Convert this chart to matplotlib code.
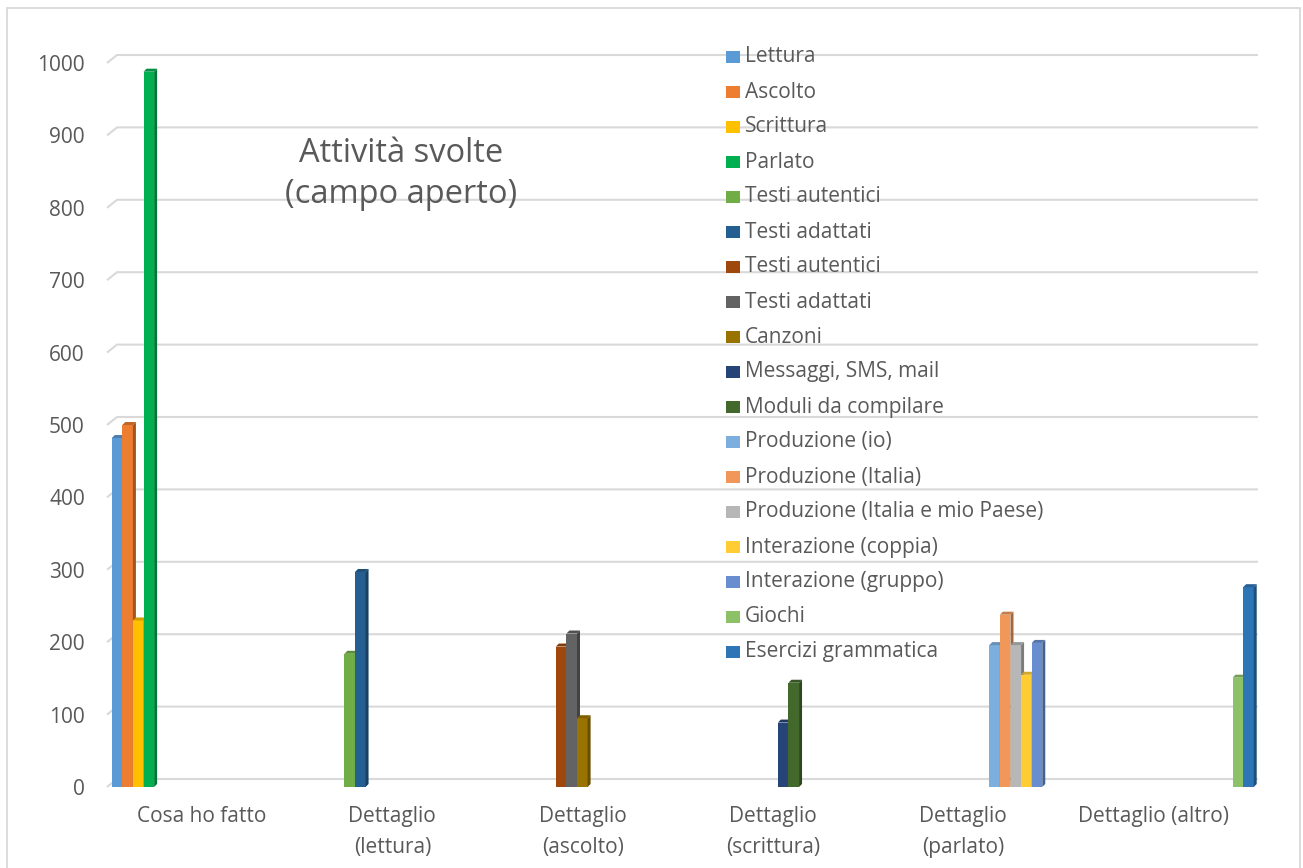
import matplotlib
matplotlib.use("Agg")
import matplotlib.pyplot as plt
from matplotlib.patches import Polygon, Rectangle
from matplotlib.colors import to_rgb

# ── data ───────────────────────────────────────────────────────────────────
CATEGORIES = [
    "Cosa ho fatto",
    "Dettaglio\n(lettura)",
    "Dettaglio\n(ascolto)",
    "Dettaglio\n(scrittura)",
    "Dettaglio\n(parlato)",
    "Dettaglio (altro)",
]

SERIES = [
    "Lettura", "Ascolto", "Scrittura", "Parlato",
    "Testi autentici", "Testi adattati",
    "Testi autentici", "Testi adattati", "Canzoni",
    "Messaggi, SMS, mail", "Moduli da compilare",
    "Produzione (io)", "Produzione (Italia)", "Produzione (Italia e mio Paese)",
    "Interazione (coppia)", "Interazione (gruppo)",
    "Giochi", "Esercizi grammatica",
]

# category each series belongs to
SERIES_CAT = [0, 0, 0, 0, 1, 1, 2, 2, 2, 3, 3, 4, 4, 4, 4, 4, 5, 5]

VALUES = [482, 500, 230, 988, 184, 297, 194, 212, 95, 89, 144,
          196, 238, 196, 155, 199, 151, 276]

COLORS = [
    "#5B9BD5", "#ED7D31", "#FFC000", "#00B050", "#70AD47", "#255E91",
    "#9E480E", "#636363", "#997300", "#264478", "#43682B", "#7CAFDD",
    "#F1975A", "#B7B7B7", "#FFCD33", "#698ED0", "#8CC168", "#2E75B6",
]

Y_TICKS = list(range(0, 1001, 100))

# ── layout helpers (pixel based, figure is 1303x868 at 100 dpi) ─────────────
W, H = 1303, 868
TEXT = "#595959"
GRID = "#D9D9D9"
CAT_PX = 190.3          # width of one category in pixels
Y_PX = 0.724            # pixels per unit on the value axis


def fx(px):
    return px / W


def fy(py):
    return 1 - py / H


def shade(color, f):
    r, g, b = to_rgb(color)
    return (r * f, g * f, b * f)


plt.rcParams["font.family"] = ["Open Sans", "DejaVu Sans"]

fig = plt.figure(figsize=(W / 100, H / 100), dpi=100)
fig.patch.set_facecolor("white")

# outer chart border
fig.patches.append(Rectangle((fx(7), fy(880)), fx(1300) - fx(7), fy(8) - fy(880),
                             transform=fig.transFigure, fill=False,
                             edgecolor=GRID, linewidth=1.3))

ax = fig.add_axes([fx(107), fy(787), fx(1258) - fx(107), fy(63) - fy(787)])
ax.set_xlim(-0.5, 5.55)
ax.set_ylim(0, 1000)
for s in ax.spines.values():
    s.set_visible(False)

# gridlines on the back wall, with the slanted side-wall stub
dx_wall = 10 / CAT_PX
dy_wall = 8 / Y_PX
for v in Y_TICKS:
    ax.plot([-0.5, -0.5 + dx_wall, 5.55], [v, v + dy_wall, v + dy_wall],
            color=GRID, linewidth=1.5, clip_on=False, zorder=0,
            solid_capstyle="butt")

# bars: one slot per series inside every category
slot = 1 / 18
lefts = [c - 0.475 + k * 0.0557 for k, c in enumerate(SERIES_CAT)]
bars = ax.bar(lefts, VALUES, width=slot, align="edge", color=COLORS,
              linewidth=0, zorder=2)

# depth faces (right side and top) for the 3-D look
ddx = 3 / CAT_PX
ddy = 3 / Y_PX
for i, (b, col) in enumerate(zip(bars, COLORS)):
    x0, w, h = b.get_x(), b.get_width(), b.get_height()
    b.set_zorder(2 + i * 0.01)
    side = Polygon([(x0 + w, 0), (x0 + w + ddx, ddy), (x0 + w + ddx, h + ddy), (x0 + w, h)],
                   closed=True, facecolor=shade(col, 0.68), edgecolor="none",
                   zorder=2 + i * 0.01)
    top = Polygon([(x0, h), (x0 + ddx, h + ddy), (x0 + w + ddx, h + ddy), (x0 + w, h)],
                  closed=True, facecolor=shade(col, 0.82), edgecolor="none",
                  zorder=2 + i * 0.01)
    ax.add_patch(side)
    ax.add_patch(top)

# axes ticks
ax.set_yticks(Y_TICKS)
ax.set_yticklabels([str(v) for v in Y_TICKS])
ax.set_xticks(range(len(CATEGORIES)))
ax.set_xticklabels(CATEGORIES, linespacing=1.6)
ax.tick_params(axis="y", length=0, pad=16, labelsize=15, labelcolor=TEXT)
ax.tick_params(axis="x", length=0, pad=14, labelsize=15, labelcolor=TEXT)

# title inside plot area
fig.text(fx(401), fy(174), "Attività svolte\n(campo aperto)", ha="center", va="center",
         fontsize=23.5, color=TEXT, linespacing=1.3)

# legend, one row per series
for k, (name, col) in enumerate(zip(SERIES, COLORS)):
    yc = 57 + 35 * k
    fig.patches.append(Rectangle((fx(726), fy(yc + 6)), fx(740) - fx(726), fy(yc - 6) - fy(yc + 6),
                                 transform=fig.transFigure, facecolor=col,
                                 edgecolor="none"))
    fig.text(fx(745), fy(yc), name, ha="left", va="center", fontsize=15, color=TEXT)

fig.savefig("out.png", dpi=100)
